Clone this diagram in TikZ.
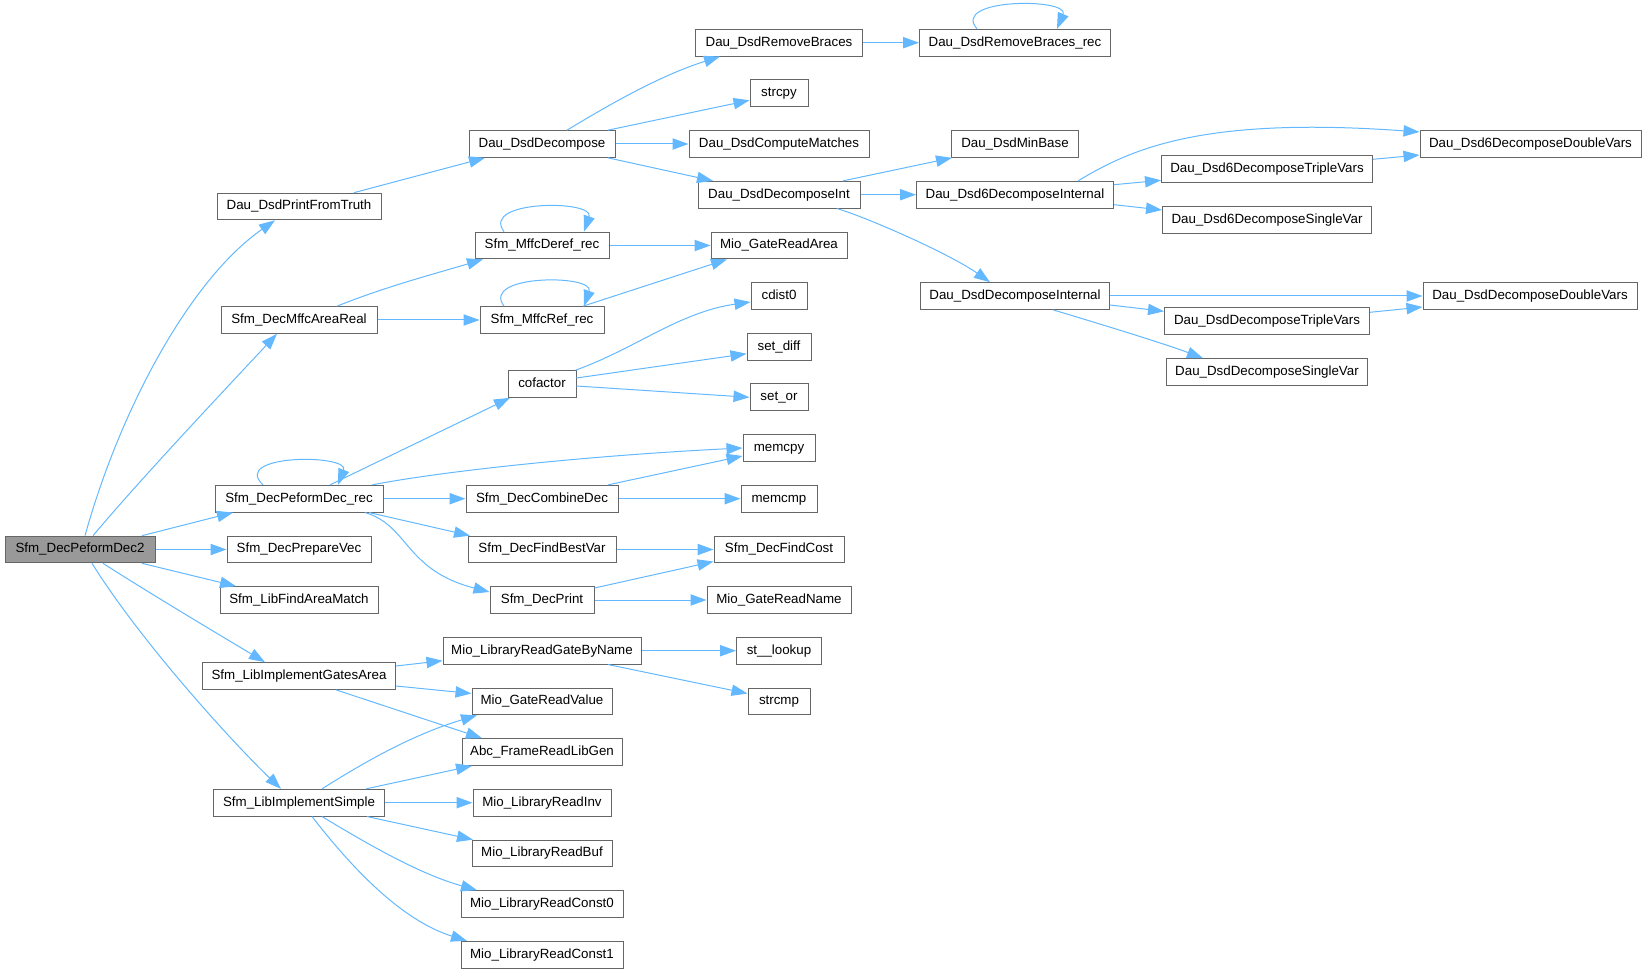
\documentclass[tikz,border=0pt]{standalone}
\usepackage{fontspec}
\setmainfont{Liberation Sans}
\usetikzlibrary{arrows.meta,calc}
\definecolor{edgec}{HTML}{63B8FF}
\definecolor{boxc}{HTML}{666666}
\definecolor{rootc}{HTML}{999999}
\begin{document}
\begin{tikzpicture}[x=0.75pt,y=-0.75pt,
  fn/.style={draw=boxc, line width=0.75pt, fill=white, minimum height=20pt, inner sep=0pt,
             text height=7.3pt, text depth=2.1pt, font=\fontsize{10}{12}\selectfont},
  rootfn/.style={fn, fill=rootc},
  e/.style={draw=edgec, line width=0.75pt, -{Triangle[length=12pt,width=8.5pt]}}]
\useasboundingbox (0,0) rectangle (1646,973);
% column 0
\node[rootfn, minimum width=112.5pt] (root) at (80,549.5) {Sfm\_DecPeformDec2};
% column 1
\node[fn, minimum width=123pt] (pft) at (299,206.5) {Dau\_DsdPrintFromTruth};
\node[fn, minimum width=117pt] (dmar) at (299,320) {Sfm\_DecMffcAreaReal};
\node[fn, minimum width=126pt] (dpdr) at (299,498.7) {Sfm\_DecPeformDec\_rec};
\node[fn, minimum width=108pt] (dpv) at (299,549.5) {Sfm\_DecPrepareVec};
\node[fn, minimum width=118.5pt] (lfam) at (299,600) {Sfm\_LibFindAreaMatch};
\node[fn, minimum width=144.75pt] (liga) at (299,676) {Sfm\_LibImplementGatesArea};
\node[fn, minimum width=128.25pt] (lis) at (299,802.7) {Sfm\_LibImplementSimple};
% column 2
\node[fn, minimum width=109.5pt] (dd) at (542,144) {Dau\_DsdDecompose};
\node[fn, minimum width=100.5pt] (mdr) at (542,245.5) {Sfm\_MffcDeref\_rec};
\node[fn, minimum width=93pt] (mrr) at (542,320) {Sfm\_MffcRef\_rec};
\node[fn, minimum width=51pt] (cof) at (542,384) {cofactor};
\node[fn, minimum width=114pt] (dcd) at (542,498.7) {Sfm\_DecCombineDec};
\node[fn, minimum width=111pt] (dfbv) at (542,549.5) {Sfm\_DecFindBestVar};
\node[fn, minimum width=78pt] (dp) at (542,600) {Sfm\_DecPrint};
\node[fn, minimum width=148.5pt] (lrgbn) at (542,650.7) {Mio\_LibraryReadGateByName};
\node[fn, minimum width=105pt] (grv) at (542,701.5) {Mio\_GateReadValue};
\node[fn, minimum width=120pt] (afrlg) at (542,752) {Abc\_FrameReadLibGen};
\node[fn, minimum width=103.5pt] (rinv) at (542,802.7) {Mio\_LibraryReadInv};
\node[fn, minimum width=105pt] (rbuf) at (542,853.5) {Mio\_LibraryReadBuf};
\node[fn, minimum width=121.5pt] (rc0) at (542,904) {Mio\_LibraryReadConst0};
\node[fn, minimum width=121.5pt] (rc1) at (542,954.7) {Mio\_LibraryReadConst1};
% column 3
\node[fn, minimum width=125.25pt] (rb) at (779,42.7) {Dau\_DsdRemoveBraces};
\node[fn, minimum width=43.5pt] (strcpy) at (779,93.3) {strcpy};
\node[fn, minimum width=135pt] (dcm) at (779,144) {Dau\_DsdComputeMatches};
\node[fn, minimum width=121.5pt] (ddi) at (779,194.7) {Dau\_DsdDecomposeInt};
\node[fn, minimum width=102pt] (gra) at (779,245.5) {Mio\_GateReadArea};
\node[fn, minimum width=42pt] (cdist) at (779,296) {cdist0};
\node[fn, minimum width=48pt] (sdiff) at (779,346.7) {set\_diff};
\node[fn, minimum width=43.5pt] (sor) at (779,397.3) {set\_or};
\node[fn, minimum width=54pt] (memcpy) at (779,448) {memcpy};
\node[fn, minimum width=57pt] (memcmp) at (779,498.7) {memcmp};
\node[fn, minimum width=97.5pt] (dfc) at (779,549.5) {Sfm\_DecFindCost};
\node[fn, minimum width=108pt] (grn) at (779,600) {Mio\_GateReadName};
\node[fn, minimum width=63.75pt] (stl) at (779,650.7) {st\_\_lookup};
\node[fn, minimum width=46.5pt] (strcmp) at (779,701.5) {strcmp};
% column 4
\node[fn, minimum width=143.25pt] (rbr) at (1015,42.7) {Dau\_DsdRemoveBraces\_rec};
\node[fn, minimum width=95.25pt] (mb) at (1015,144) {Dau\_DsdMinBase};
\node[fn, minimum width=147.75pt] (d6di) at (1015,194.7) {Dau\_Dsd6DecomposeInternal};
\node[fn, minimum width=141.75pt] (ddin) at (1015,296) {Dau\_DsdDecomposeInternal};
% column 5
\node[fn, minimum width=158.25pt] (d6tv) at (1267,169.3) {Dau\_Dsd6DecomposeTripleVars};
\node[fn, minimum width=156.75pt] (d6sv) at (1267,220) {Dau\_Dsd6DecomposeSingleVar};
\node[fn, minimum width=153.75pt] (ddtv) at (1267,321.3) {Dau\_DsdDecomposeTripleVars};
\node[fn, minimum width=150.75pt] (ddsv) at (1267,372) {Dau\_DsdDecomposeSingleVar};
% column 6
\node[fn, minimum width=165.75pt] (d6dv) at (1530.5,144) {Dau\_Dsd6DecomposeDoubleVars};
\node[fn, minimum width=160.5pt] (dddv) at (1530,296) {Dau\_DsdDecomposeDoubleVars};

% edges from root
\draw[e] ($(root.north)+(5,0)$) .. controls +(35,-126) and +(-85,59) .. ($(pft.south)+(-24,0)$);
\draw[e] ($(root.north)+(13,0)$) .. controls +(47,-56) and +(-57,61) .. ($(dmar.south)+(-22,0)$);
\draw[e] ($(root.north)+(62,0)$) -- ($(dpdr.south)+(-66,0)$);
\draw[e] (root.east) -- (dpv.west);
\draw[e] ($(root.south)+(62,0)$) -- ($(lfam.north)+(-63,0)$);
\draw[e] ($(root.south)+(23,0)$) .. controls +(50,32) and +(-50,-30) .. ($(liga.north)+(-34,0)$);
\draw[e] ($(root.south)+(12,0)$) .. controls +(48,77) and +(-51,-49) .. ($(lis.north)+(-18,0)$);
% column 1 edges
\draw[e] ($(pft.north)+(55,0)$) -- ($(dd.south)+(-57,0)$);
\draw[e] ($(dmar.north)+(38,0)$) .. controls +(50,-20) and +(-50,15) .. ($(mdr.south)+(-59,0)$);
\draw[e] (dmar.east) -- (mrr.west);
\draw[e] ($(dpdr.north)+(-36,0)$) .. controls +(-33,-31) and +(12,-31) .. ($(dpdr.north)+(39,0)$);
\draw[e] ($(dpdr.north)+(31,0)$) -- ($(cof.south)+(-32,0)$);
\draw[e] ($(dpdr.north)+(73,0)$) .. controls +(78,-15) and +(-143,7) .. (memcpy.west);
\draw[e] (dpdr.east) -- (dcd.west);
\draw[e] ($(dpdr.south)+(70,0)$) -- ($(dfbv.north)+(-72,0)$);
\draw[e] ($(dpdr.south)+(66,0)$) .. controls +(44,13) and +(-85,-22) .. ($(dp.west)+(0,-8)$);
\draw[e] ($(liga.east)+(0,-10)$) -- ($(lrgbn.west)+(0,10)$);
\draw[e] ($(liga.east)+(0,10)$) -- ($(grv.west)+(0,-8)$);
\draw[e] ($(liga.south)+(37,0)$) -- ($(afrlg.north)+(-60,0)$);
\draw[e] ($(lis.north)+(23,0)$) .. controls +(38,-24) and +(-67,20) .. ($(grv.south)+(-65,0)$);
\draw[e] ($(lis.north)+(67,0)$) -- ($(afrlg.south)+(-70,0)$);
\draw[e] (lis.east) -- (rinv.west);
\draw[e] ($(lis.south)+(68,0)$) -- ($(rbuf.north)+(-69,0)$);
\draw[e] ($(lis.south)+(23,0)$) .. controls +(48,29) and +(-57,-16) .. ($(rc0.north)+(-65,0)$);
\draw[e] ($(lis.south)+(13,0)$) .. controls +(38,49) and +(-67,-21) .. ($(rc1.north)+(-75,0)$);
% column 2 edges
\draw[e] ($(dd.north)+(25,0)$) .. controls +(43,-26) and +(-60,19) .. ($(rb.south)+(-59,0)$);
\draw[e] ($(dd.north)+(66,0)$) -- ($(strcpy.west)+(0,7)$);
\draw[e] (dd.east) -- (dcm.west);
\draw[e] ($(dd.south)+(66,0)$) -- ($(ddi.north)+(-66,0)$);
\draw[e] ($(mdr.north)+(-38,0)$) .. controls +(-24,-32) and +(11,-32) .. ($(mdr.north)+(42,0)$);
\draw[e] (mdr.east) -- (gra.west);
\draw[e] ($(mrr.north)+(-38,0)$) .. controls +(-24,-32) and +(11,-32) .. ($(mrr.north)+(42,0)$);
\draw[e] ($(mrr.north)+(41,0)$) -- ($(gra.south)+(-52,0)$);
\draw[e] ($(cof.north east)+(-1,0)$) .. controls +(59,-21) and +(-71,10) .. ($(cdist.west)+(0,6)$);
\draw[e] ($(cof.east)+(0,-6)$) -- ($(sdiff.west)+(0,7)$);
\draw[e] ($(cof.east)+(0,2)$) -- (sor.west);
\draw[e] ($(dcd.north)+(66,0)$) -- ($(memcpy.west)+(0,8)$);
\draw[e] (dcd.east) -- (memcmp.west);
\draw[e] (dfbv.east) -- (dfc.west);
\draw[e] ($(dp.east)+(0,-12)$) -- ($(dfc.west)+(0,12)$);
\draw[e] (dp.east) -- (grn.west);
\draw[e] (lrgbn.east) -- (stl.west);
\draw[e] ($(lrgbn.south)+(66,0)$) -- ($(strcmp.west)+(0,-8)$);
% column 3 edges
\draw[e] (rb.east) -- (rbr.west);
\draw[e] ($(rbr.north)+(-38,0)$) .. controls +(-27,-31) and +(13,-31) .. ($(rbr.north)+(42,0)$);
\draw[e] ($(ddi.north)+(64,0)$) -- ($(mb.south west)+(1,0)$);
\draw[e] (ddi.east) -- (d6di.west);
\draw[e] ($(ddi.south)+(58,0)$) .. controls +(33,10) and +(-40,-28) .. ($(ddin.north)+(-25,0)$);
% column 4 edges
\draw[e] ($(d6di.north)+(63,0)$) .. controls +(52,-31) and +(-220,-16) .. ($(d6dv.west)+(0,-12)$);
\draw[e] ($(d6di.east)+(0,-10)$) -- ($(d6tv.west)+(0,11)$);
\draw[e] ($(d6di.east)+(0,10)$) -- ($(d6sv.west)+(0,-10)$);
\draw[e] ($(d6tv.east)+(0,-10)$) -- ($(d6dv.west)+(0,11)$);
\draw[e] (ddin.east) -- (dddv.west);
\draw[e] ($(ddin.east)+(0,9)$) -- ($(ddtv.west)+(0,-10)$);
\draw[e] ($(ddin.south)+(38,0)$) .. controls +(40,12) and +(-40,-15) .. ($(ddsv.north)+(-64,0)$);
\draw[e] ($(ddtv.east)+(0,-9)$) -- ($(dddv.west)+(0,11)$);
\end{tikzpicture}
\end{document}
